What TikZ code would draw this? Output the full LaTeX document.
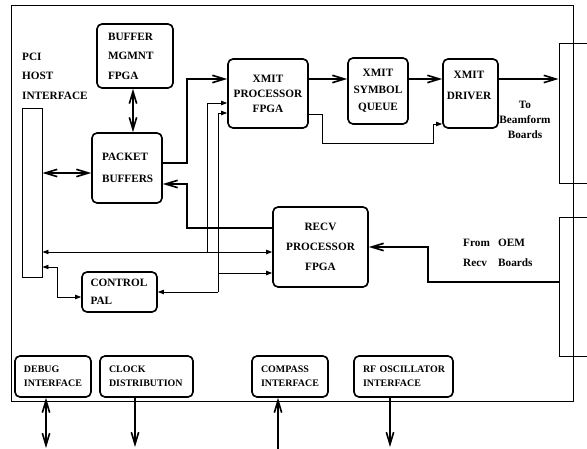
\documentclass[tikz,border=0pt]{standalone}
\usepackage{fontspec}
\setmainfont{Liberation Serif}
\usetikzlibrary{arrows.meta}

\tikzset{
  blk/.style={draw, line width=1.4pt, rounded corners=1.5mm, inner ysep=0pt,
    font=\fontsize{9.6}{#1}\selectfont\bfseries},
  blk/.default=16pt,
  lbl/.style={inner sep=0pt, font=\fontsize{9.6}{#1}\selectfont\bfseries},
  lbl/.default=16pt,
  io/.style={draw, line width=1.4pt, rounded corners=1.5mm, minimum height=12.3mm,
    inner xsep=2.7mm, inner ysep=0pt, align=left, font=\fontsize{8.5}{12}\selectfont\bfseries},
  conn/.style={draw, line width=0.8pt, inner sep=0pt},
  wire/.style={line width=1.4pt},
  sig/.style={line width=0.8pt},
  hd/.style={-{Straight Barb[length=3.6mm,width=2.2mm]}},
  hhd/.style={{Straight Barb[length=3.6mm,width=2.2mm]}-{Straight Barb[length=3.6mm,width=2.2mm]}},
  shd/.style={-{Triangle[length=1.8mm,width=1.3mm]}},
  sshd/.style={{Triangle[length=1.8mm,width=1.3mm]}-{Triangle[length=1.8mm,width=1.3mm]}}
}

\begin{document}
\begin{tikzpicture}[x=0.3mm, y=-0.3mm]

\useasboundingbox (0,0) rectangle (587,449);

% board outline
\draw[line width=0.8pt] (11,5) rectangle (573,401);

% host side
\node[conn, minimum width=6mm, minimum height=50.7mm] (pci) at (32,192.5) {};
\node[lbl=16.6pt, anchor=west, align=left] (pcitxt) at (22,76) {PCI\\HOST\\INTERFACE};

\node[blk=16.6pt, text width=16.2mm, inner xsep=3.3mm, minimum height=19.2mm, align=left] (bufmg) at (135,56) {BUFFER\\MGMNT\\FPGA};
\node[blk=18.8pt, text width=15mm, inner xsep=3mm, minimum height=21mm, align=left] (pktbuf) at (127,168) {PACKET\\BUFFERS};
\node[blk=15.4pt, text width=17.4mm, inner xsep=2.55mm, minimum height=12mm, align=left] (ctrl) at (119.5,292) {CONTROL\\PAL};

% transmit chain
\node[blk=12.8pt, minimum width=24mm, minimum height=20.7mm, align=center] (xproc) at (268,93.5) {XMIT\\PROCESSOR\\FPGA};
\node[blk=14.5pt, minimum width=18mm, minimum height=19.8mm, align=center] (xqueue) at (378,91) {XMIT\\SYMBOL\\QUEUE};
\node[blk, minimum width=16.5mm, minimum height=20.7mm] (xdrv) at (470.5,93.5) {};
\node[lbl=17.9pt, align=center] (xdrvtxt) at (469,85.5) {XMIT\\DRIVER};

% receive side
\node[blk=17pt, minimum width=28.5mm, minimum height=24mm, align=center] (recv) at (320.5,247) {RECV\\PROCESSOR\\FPGA};

% backplane connectors
\node[conn, minimum width=16.8mm, minimum height=42mm] (beam) at (587,113) {};
\node[conn, minimum width=16.8mm, minimum height=41.7mm] (oem) at (587,286.5) {};
\node[lbl=12.8pt, align=center] (beamtxt) at (525,120) {To\\Beamform\\Boards};
\node[lbl=17pt, anchor=west, align=left] (oemtxt) at (463,253) {\makebox[10.5mm][l]{From}OEM\\\makebox[10.5mm][l]{Recv}Boards};

% interfaces along the bottom
\node[io, text width=17.4mm] (debug) at (53,376.5) {DEBUG\\INTERFACE};
\node[io, text width=22.5mm] (clock) at (146.5,376.5) {CLOCK\\DISTRIBUTION};
\node[io, text width=17.4mm] (compass) at (290,376.5) {COMPASS\\INTERFACE};
\node[io, text width=24.3mm] (rfosc) at (403.5,376.5) {\mbox{RF OSCILLATOR}\\INTERFACE};

\coordinate (dbgend) at (46,448);
\coordinate (clkend) at (135,447);
\coordinate (cmpend) at (278,449);
\coordinate (rfend) at (390,447);

\draw[wire, hhd] (debug.south -| dbgend) -- (dbgend);
\draw[wire, hd] (clock.south -| clkend) -- (clkend);
\draw[wire, hd] (cmpend) -- (compass.south -| cmpend);
\draw[wire, hd] (rfosc.south -| rfend) -- (rfend);

% data paths
\draw[wire, hhd] (133,0 |- bufmg.south) -- (133,0 |- pktbuf.north);
\draw[wire, hhd] (pci.east |- 0,173) -- (pktbuf.west |- 0,173);
\draw[wire, hd] (pktbuf.east |- 0,163) -- (187,163) |- (xproc.west |- 0,79);
\draw[wire, hd] (xproc.east |- 0,79) -- (xqueue.west |- 0,79);
\draw[wire, hd] (xqueue.east |- 0,79) -- (xdrv.west |- 0,79);
\draw[wire, hd] (xdrv.east |- 0,79) -- (beam.west |- 0,79);
\draw[sig, shd] (xproc.east |- 0,114) -- (322,114) -- (322,143) -- (433,143) |- (xdrv.west |- 0,124);
\draw[wire, hd] (recv.west |- 0,228) -- (187,228) |- (pktbuf.east |- 0,184);
\draw[wire, hd] (oem.west |- 0,282) -- (428,282) |- (recv.east |- 0,247);

% control lines
\draw[sig, sshd] (pci.east |- 0,252) -- (recv.west |- 0,252);
\draw[sig, shd] (207,252) |- (xproc.west |- 0,103);
\draw[sig, shd] (218,292) |- (xproc.west |- 0,113);
\draw[sig, shd] (218,292) -- (ctrl.east |- 0,292);
\draw[sig, shd] (218,273) -- (recv.west |- 0,273);
\draw[sig, sshd] (pci.east |- 0,267) -- (57,267) |- (ctrl.west |- 0,297);

\end{tikzpicture}
\end{document}
